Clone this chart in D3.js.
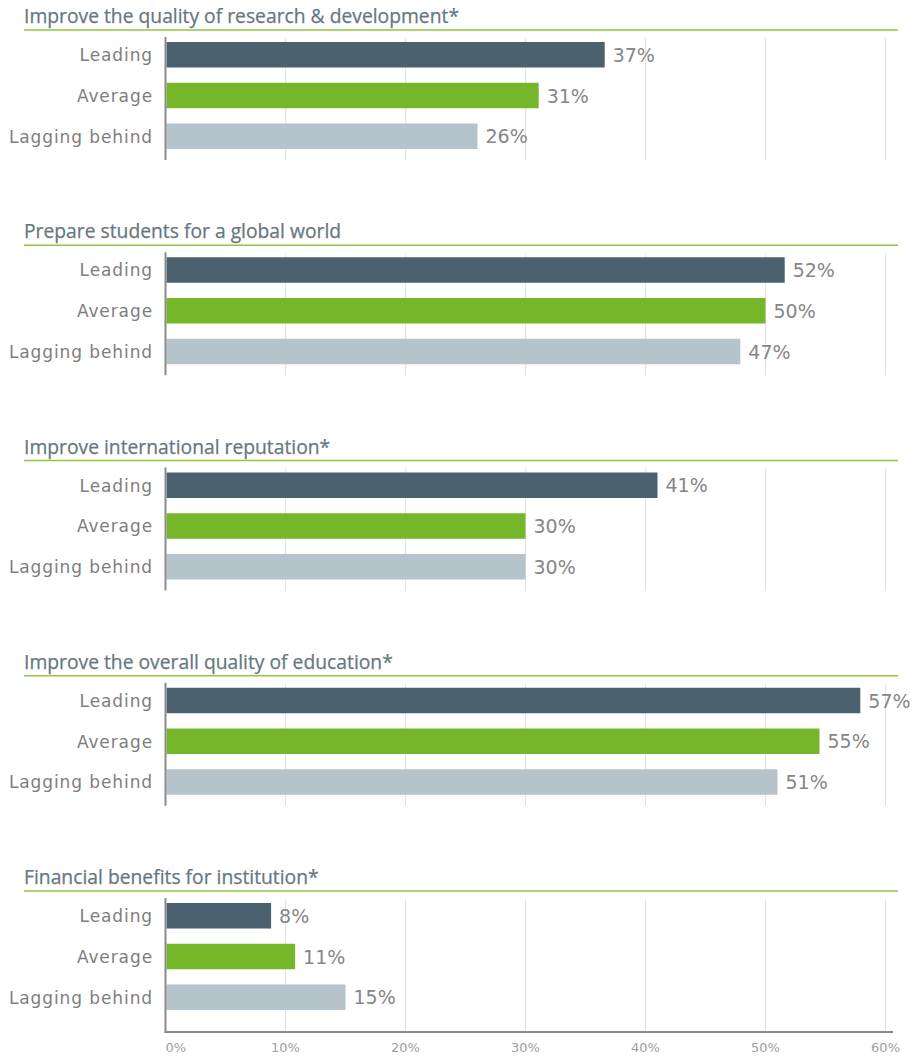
<!DOCTYPE html>
<html><head><meta charset="utf-8">
<script src="https://cdn.jsdelivr.net/npm/d3@7"></script>
<style>
html,body{margin:0;padding:0;background:#fff;}
svg{display:block;}
</style></head>
<body>
<svg id="chart" width="913" height="1056"></svg>
<script>
const titles = [
  "Improve the quality of research & development*",
  "Prepare students for a global world",
  "Improve international reputation*",
  "Improve the overall quality of education*",
  "Financial benefits for institution*"
];
const categories = ["Leading", "Average", "Lagging behind"];
// bar lengths (%)
const leading = [36.6, 51.6, 41.0, 57.9, 8.8];
const average = [31.1, 50.0, 30.0, 54.5, 10.8];
const lagging = [26.0, 47.9, 30.0, 51.0, 15.0];
// printed value labels (%)
const leadingLabels = [37, 52, 41, 57, 8];
const averageLabels = [31, 50, 30, 55, 11];
const laggingLabels = [26, 47, 30, 51, 15];
const tickValues = [0, 10, 20, 30, 40, 50, 60];

const colors = {Leading: "#4b6170", Average: "#76b72a", "Lagging behind": "#b5c3ca"};
const svg = d3.select("#chart");
const titleFont = "'Open Sans', sans-serif";
const bodyFont = "'DejaVu Sans', sans-serif";

const x = d3.scaleLinear().domain([0, 60]).range([165.5, 885.5]);
const panelStep = 215.25;

titles.forEach((title, i) => {
  const y0 = 30 + i * panelStep;
  const g = svg.append("g");
  const isLast = i === titles.length - 1;
  const axisBottom = isLast ? 1032 : y0 + 130;

  g.append("text").attr("x", 24).attr("y", y0 - 7)
    .attr("font-family", titleFont).attr("font-size", 19.3).attr("fill", "#66777f")
    .attr("font-weight", 500)
    .attr("stroke", "#66777f").attr("stroke-width", 0.25)
    .text(title);
  g.append("line").attr("x1", 24).attr("x2", 898).attr("y1", y0).attr("y2", y0)
    .attr("stroke", "#8dc63f").attr("stroke-width", 1.5);

  // gridlines
  g.selectAll(".grid").data(tickValues.slice(1)).join("line")
    .attr("x1", d => x(d)).attr("x2", d => x(d))
    .attr("y1", y0 + 8).attr("y2", axisBottom)
    .attr("stroke", "#e3e3e3").attr("stroke-width", 1.2);

  const y = d3.scaleBand().domain(categories).range([y0 + 12, y0 + 119])
    .paddingInner(0.374).paddingOuter(0);

  const rows = [
    {cat: "Leading", v: leading[i], lab: leadingLabels[i]},
    {cat: "Average", v: average[i], lab: averageLabels[i]},
    {cat: "Lagging behind", v: lagging[i], lab: laggingLabels[i]}
  ];

  g.selectAll(".bar").data(rows).join("rect")
    .attr("x", x(0) + 1).attr("y", d => y(d.cat))
    .attr("width", d => x(d.v) - x(0) - 1).attr("height", y.bandwidth())
    .attr("fill", d => colors[d.cat]);

  g.selectAll(".val").data(rows).join("text")
    .attr("x", d => x(d.v) + 8).attr("y", d => y(d.cat) + y.bandwidth() / 2)
    .attr("dy", "0.37em")
    .attr("font-family", bodyFont).attr("font-size", 19).attr("fill", "#868686")
    .text(d => d.lab + "%");

  g.selectAll(".cat").data(rows).join("text")
    .attr("x", 153).attr("y", d => y(d.cat) + y.bandwidth() / 2)
    .attr("dy", "0.37em").attr("text-anchor", "end")
    .attr("font-family", bodyFont).attr("font-size", 17).attr("fill", "#7e7e7e")
    .attr("letter-spacing", 0.9)
    .text(d => d.cat);

  g.append("line").attr("x1", x(0)).attr("x2", x(0))
    .attr("y1", y0 + 7).attr("y2", axisBottom + (isLast ? 1 : 0))
    .attr("stroke", "#8a8a8a").attr("stroke-width", 2);

  if (isLast) {
    g.append("line").attr("x1", x(0) - 1).attr("x2", 893)
      .attr("y1", axisBottom).attr("y2", axisBottom)
      .attr("stroke", "#8a8a8a").attr("stroke-width", 2);
    g.selectAll(".tick").data(tickValues).join("text")
      .attr("x", d => d === 0 ? x(0) : (d === 60 ? 900 : x(d)))
      .attr("y", 1052)
      .attr("text-anchor", d => d === 0 ? "start" : (d === 60 ? "end" : "middle"))
      .attr("font-family", bodyFont).attr("font-size", 13).attr("fill", "#a0a0a0")
      .text(d => d + "%");
  }
});
</script>
</body></html>
